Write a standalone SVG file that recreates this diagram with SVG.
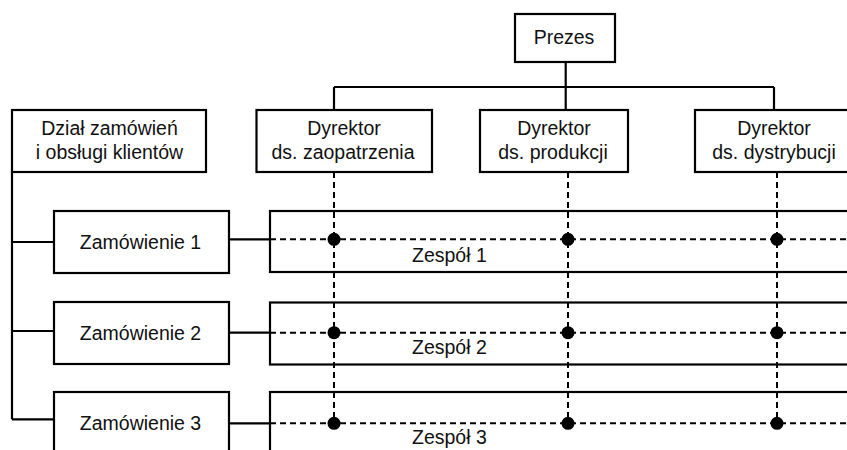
<svg xmlns="http://www.w3.org/2000/svg" width="847" height="450" viewBox="0 0 847 450">
<style>
.box{fill:#fff;stroke:#000;stroke-width:2.2}
.ln{fill:none;stroke:#000;stroke-width:2.2}
.dash{fill:none;stroke:#000;stroke-width:2;stroke-dasharray:6 4}
.dot{fill:#000}
text{font-family:"Liberation Sans",Arial,sans-serif;font-size:19.5px;fill:#111;text-anchor:middle}
.lt{text-anchor:start}
</style>
<rect width="847" height="450" fill="#fff"/>
<g id="teams">
<g id="team1"><rect class="box" x="270" y="211" width="600" height="61"/><text class="lt" x="412" y="261.5">Zespół 1</text></g>
<g id="team2"><rect class="box" x="270" y="302.5" width="600" height="62"/><text class="lt" x="412" y="353.5">Zespół 2</text></g>
<g id="team3"><rect class="box" x="270" y="392" width="600" height="80"/><text class="lt" x="412" y="444">Zespół 3</text></g>
</g>
<g id="connectors">
<path class="ln" d="M334 87H774M334 87V110M565.7 62V110M774 87V110"/>
<path class="ln" d="M12 172V419.3M12 242H54M12 331H54M12 419.3H54"/>
<path class="ln" d="M229 239.3H270M229 332.7H270M229 423.3H270"/>
<path class="dash" d="M270 239.3H847M270 332.7H847M270 423.3H847"/>
<path class="dash" d="M334 172V423M568 172V423M777 172V423"/>
<circle class="dot" cx="334" cy="239.3" r="6.5"/><circle class="dot" cx="568" cy="239.3" r="6.5"/><circle class="dot" cx="777" cy="239.3" r="6.5"/>
<circle class="dot" cx="334" cy="332.7" r="6.5"/><circle class="dot" cx="568" cy="332.7" r="6.5"/><circle class="dot" cx="777" cy="332.7" r="6.5"/>
<circle class="dot" cx="334" cy="423.3" r="6.5"/><circle class="dot" cx="568" cy="423.3" r="6.5"/><circle class="dot" cx="777" cy="423.3" r="6.5"/>
</g>
<g id="prezes"><rect class="box" x="515" y="14" width="100" height="48"/><text x="564" y="44">Prezes</text></g>
<g id="dzial"><rect class="box" x="12" y="110" width="194" height="62"/><text x="109.5" y="135">Dział zamówień</text><text x="109.5" y="158.5">i obsługi klientów</text></g>
<g id="dyr-zaopatrzenia"><rect class="box" x="256.5" y="110" width="175.5" height="62"/><text x="344" y="135">Dyrektor</text><text x="343" y="158.5">ds. zaopatrzenia</text></g>
<g id="dyr-produkcji"><rect class="box" x="480" y="110" width="148" height="62"/><text x="554" y="135">Dyrektor</text><text x="553" y="158.5">ds. produkcji</text></g>
<g id="dyr-dystrybucji"><rect class="box" x="695" y="110" width="170" height="62"/><text x="774" y="135">Dyrektor</text><text x="774" y="158.5">ds. dystrybucji</text></g>
<g id="zam1"><rect class="box" x="54" y="211" width="175" height="62"/><text x="140.5" y="249">Zamówienie 1</text></g>
<g id="zam2"><rect class="box" x="54" y="302" width="175" height="62"/><text x="140.5" y="340">Zamówienie 2</text></g>
<g id="zam3"><rect class="box" x="54" y="392" width="175" height="80"/><text x="140.5" y="430">Zamówienie 3</text></g>
</svg>
